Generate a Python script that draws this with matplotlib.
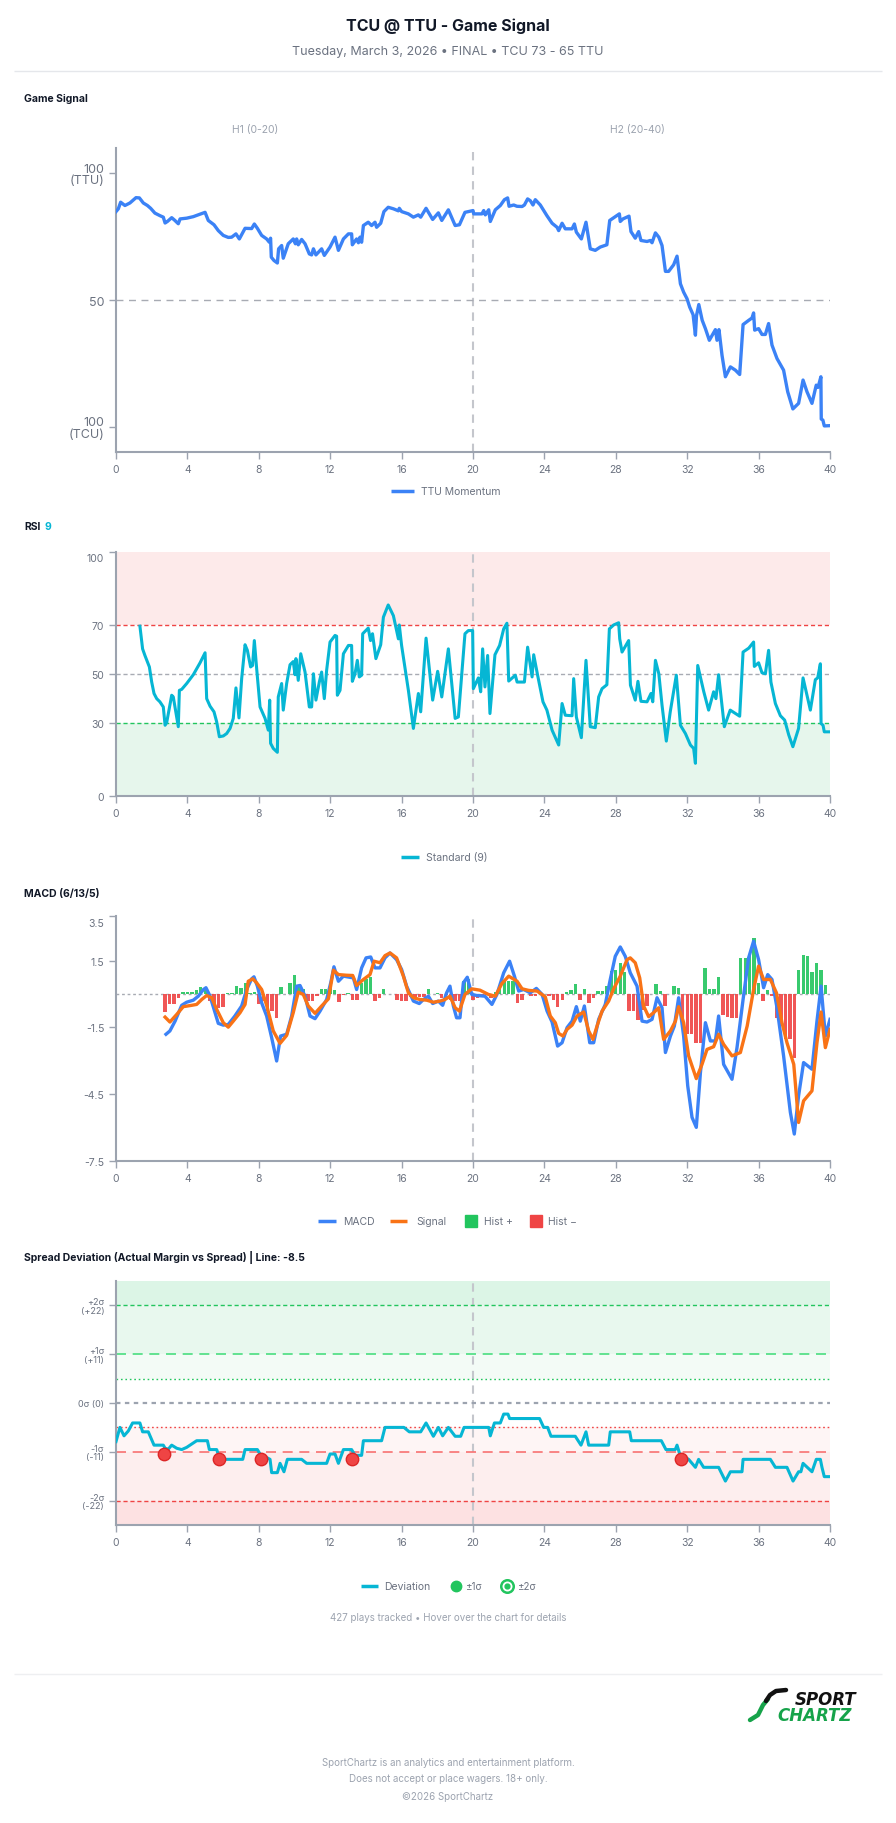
import matplotlib
matplotlib.use("Agg")
import matplotlib.pyplot as plt
from matplotlib.lines import Line2D
from matplotlib.transforms import ScaledTranslation
import numpy as np

plt.rcParams['font.family'] = ['Inter', 'DejaVu Sans']

# ---------------- DATA ----------------
x_ticks = [0, 4, 8, 12, 16, 20, 24, 28, 32, 36, 40]

mom_t = [0, 0.13, 0.26, 0.5, 0.78, 1.12, 1.31, 1.53, 1.76, 1.94,
         2.18, 2.46, 2.65, 2.75, 2.88, 3.12, 3.3, 3.49, 3.59, 3.96,
         4.33, 4.71, 4.99, 5.17, 5.49, 5.73, 6.01, 6.29, 6.48, 6.72,
         6.91, 7.23, 7.6, 7.75, 7.92, 8.16, 8.44, 8.59, 8.66, 8.7,
         8.85, 9.04, 9.11, 9.28, 9.37, 9.65, 9.93, 10.05, 10.12, 10.21,
         10.4, 10.59, 10.83, 10.96, 11.06, 11.2, 11.52, 11.67, 11.99, 12.27,
         12.46, 12.74, 13.02, 13.2, 13.24, 13.48, 13.58, 13.67, 13.76, 13.86,
         14.13, 14.32, 14.51, 14.6, 14.83, 15.01, 15.25, 15.54, 15.82, 15.87,
         16.0, 16.38, 16.66, 16.94, 17.07, 17.37, 17.74, 18.06, 18.25, 18.62,
         19.0, 19.24, 19.55, 20.0, 20.04, 20.5, 20.6, 20.69, 20.88, 20.97,
         21.25, 21.53, 21.76, 21.94, 22.02, 22.28, 22.46, 22.75, 22.88, 23.06,
         23.21, 23.36, 23.49, 23.77, 24.14, 24.43, 24.71, 24.8, 24.99, 25.17,
         25.55, 25.68, 25.79, 26.07, 26.33, 26.57, 26.85, 27.13, 27.5, 27.66,
         27.97, 28.2, 28.25, 28.4, 28.74, 28.85, 29.09, 29.28, 29.41, 29.75,
         29.93, 30.03, 30.22, 30.41, 30.59, 30.78, 30.96, 31.24, 31.43, 31.62,
         31.8, 31.99, 32.14, 32.33, 32.46, 32.52, 32.65, 32.84, 33.02, 33.24,
         33.58, 33.67, 33.78, 33.95, 34.14, 34.42, 34.7, 34.94, 35.13, 35.45,
         35.63, 35.72, 35.78, 36.0, 36.19, 36.38, 36.56, 36.75, 37.03, 37.4,
         37.63, 37.92, 38.24, 38.49, 38.71, 38.99, 39.23, 39.33, 39.49, 39.51,
         39.6, 39.68, 40.0]
mom_v = [84.9, 86, 88.6, 87.3, 88.3, 90.4, 90.3, 88.3, 87.3, 86.2,
         84.3, 83.3, 82.7, 80.4, 81, 82.5, 81.4, 80.1, 82, 82.3,
         82.9, 83.9, 84.6, 81.4, 79.7, 77.4, 75.5, 74.7, 74.8, 76.1,
         74.1, 78.3, 78.2, 80, 78.3, 75.5, 74.1, 72.8, 74.4, 66.9,
         65.6, 64.6, 70.2, 71.5, 66.5, 72.2, 74.1, 72.2, 74.1, 71.8,
         73.9, 72.2, 68.2, 67.8, 70.2, 67.8, 70.2, 67.6, 70.9, 74.8,
         69.6, 74.1, 76.1, 76.1, 71.8, 74.1, 72.6, 74.8, 72.8, 79.4,
         80.7, 79.4, 80.7, 78.7, 80.3, 84.9, 86.6, 86, 85.2, 86.2,
         84.9, 84, 82.7, 83.6, 82.7, 86.2, 81.8, 84.4, 81.4, 85.6,
         79.4, 79.7, 84.6, 85.3, 84, 84, 85.3, 83.6, 85.6, 81,
         85.6, 87.3, 89.6, 90.3, 87, 87.5, 87, 86.9, 87.5, 89.9,
         89.2, 87.5, 89.6, 87.5, 83.3, 80.3, 78.7, 77.4, 80.3, 78.1,
         78.1, 80, 76.8, 74.1, 80.7, 70.2, 69.6, 70.9, 71.8, 81.4,
         82.9, 84, 81, 82, 83.1, 77, 74.4, 77, 73.5, 73.1,
         73.5, 72.6, 76.5, 74.8, 71.5, 61.3, 61.3, 63.9, 67.3, 56.4,
         53.1, 50.5, 47.2, 44.2, 36.1, 43.8, 48.2, 42, 38.7, 34.1,
         38.3, 34.1, 38.3, 28.2, 19.7, 23.6, 22.3, 20.6, 40.3, 42,
         42.9, 44.9, 38.1, 38.7, 36.4, 36.4, 40.7, 32.2, 26.9, 22.3,
         13.8, 7, 9.2, 18.4, 13.8, 9.2, 16.4, 15.5, 19.7, 3,
         2.6, 0.3, 0.4]

rsi_t = [1.34, 1.49, 1.62, 1.87, 2.0, 2.13, 2.28, 2.46, 2.65, 2.75,
         2.84, 3.12, 3.21, 3.49, 3.55, 3.68, 3.96, 4.33, 4.71, 4.99,
         5.08, 5.27, 5.49, 5.64, 5.79, 6.01, 6.2, 6.39, 6.57, 6.72,
         6.89, 7.04, 7.23, 7.36, 7.54, 7.65, 7.75, 7.88, 8.07, 8.35,
         8.53, 8.61, 8.66, 8.81, 9.04, 9.09, 9.28, 9.37, 9.56, 9.75,
         9.93, 10.03, 10.08, 10.21, 10.35, 10.59, 10.83, 10.96, 11.06, 11.2,
         11.39, 11.52, 11.67, 11.8, 11.99, 12.27, 12.36, 12.4, 12.55, 12.74,
         13.02, 13.2, 13.24, 13.39, 13.52, 13.63, 13.76, 13.82, 14.13, 14.26,
         14.37, 14.56, 14.83, 14.98, 15.25, 15.54, 15.82, 15.87, 16.0, 16.38,
         16.66, 16.94, 17.07, 17.37, 17.74, 18.02, 18.25, 18.62, 19.0, 19.18,
         19.55, 19.74, 19.98, 20.02, 20.3, 20.43, 20.54, 20.67, 20.82, 20.95,
         21.23, 21.49, 21.72, 21.9, 22.0, 22.37, 22.47, 22.88, 23.06, 23.31,
         23.4, 23.62, 23.92, 24.14, 24.43, 24.8, 24.99, 25.17, 25.55, 25.64,
         25.79, 26.07, 26.33, 26.57, 26.85, 27.04, 27.23, 27.5, 27.64, 27.88,
         28.16, 28.22, 28.35, 28.72, 28.82, 29.09, 29.24, 29.41, 29.75, 29.97,
         30.07, 30.22, 30.41, 30.59, 30.83, 31.05, 31.39, 31.62, 31.9, 32.18,
         32.36, 32.46, 32.59, 32.93, 33.2, 33.48, 33.61, 33.76, 34.08, 34.41,
         34.94, 35.13, 35.45, 35.72, 35.76, 36.0, 36.19, 36.38, 36.56, 36.69,
         36.94, 37.22, 37.46, 37.69, 37.92, 38.24, 38.49, 38.9, 39.18, 39.31,
         39.46, 39.5, 39.61, 39.68, 40.0]
rsi_v = [69.6, 60.3, 57.6, 52.9, 46.7, 42, 39.9, 38.6, 36.5, 29,
         30.1, 41.3, 40.6, 28.4, 43.3, 43.7, 46.1, 49.7, 54.6, 58.7,
         39.9, 36.8, 34.5, 30.4, 24.3, 24.6, 25.6, 27.7, 31.8, 44.3,
         32, 48.1, 62, 59.7, 52.9, 53.5, 63.7, 52.2, 36.5, 31.8,
         27, 39.3, 21.6, 19.5, 17.9, 40.6, 46.1, 35.2, 46.1, 53.8,
         55.1, 49.7, 56.3, 47.4, 58.3, 50.8, 36.5, 36.5, 50.1, 39.3,
         46.7, 50.8, 39.9, 51.5, 63.1, 65.8, 65.5, 41.3, 43.3, 58.3,
         61.7, 61.7, 47, 50.1, 55.6, 48.8, 49.5, 66.5, 68.8, 63.7,
         66.5, 56.3, 62, 73.3, 78.3, 73.9, 64.4, 70.1, 61.7, 43.3,
         27.7, 42, 34.5, 64.7, 39.3, 51.1, 40.6, 60.3, 31.8, 32.4,
         66.5, 67.8, 67.8, 44, 48.4, 42.7, 60.3, 44.7, 57.6, 33.8,
         57.9, 61.7, 68.5, 70.8, 47.1, 49.5, 46.7, 46.7, 61, 48.8,
         57.9, 49.5, 38.6, 35.2, 27, 20.9, 37.9, 33.1, 32.9, 48.1,
         32.4, 23.9, 55.6, 28.4, 28, 40.6, 44, 45.6, 68.5, 70.1,
         71, 64.4, 59, 63.7, 45.4, 39.3, 47, 38.8, 38.6, 42,
         38.6, 55.6, 50.1, 37.2, 22.5, 34.5, 49.5, 29, 25.6, 20.9,
         19.5, 13.4, 53.5, 42.7, 35.2, 42.7, 39.9, 49.7, 28.4, 35.2,
         32.7, 59, 60.6, 63.1, 53.1, 54.6, 50.5, 50.1, 59.7, 46.7,
         37.9, 32.9, 31.1, 25, 20.2, 27.7, 48.4, 35.2, 47.7, 48.4,
         54.2, 29.7, 29, 26.3, 26.3]

macd_t = [2.8, 3.02, 3.31, 3.68, 3.96, 4.33, 4.61, 4.9, 5.04, 5.27,
          5.55, 5.73, 6.01, 6.29, 6.66, 7.04, 7.32, 7.6, 7.73, 7.92,
          8.16, 8.44, 8.72, 9.0, 9.22, 9.56, 9.84, 10.12, 10.31, 10.59,
          10.87, 11.15, 11.43, 11.8, 12.03, 12.21, 12.46, 12.74, 13.3, 13.48,
          13.76, 14.01, 14.27, 14.51, 14.79, 15.07, 15.35, 15.72, 16.0, 16.28,
          16.66, 16.99, 17.22, 17.5, 17.74, 18.06, 18.3, 18.52, 18.71, 18.9,
          19.08, 19.27, 19.46, 19.68, 19.93, 20.21, 20.67, 21.06, 21.34, 21.72,
          22.05, 22.32, 22.56, 22.84, 23.21, 23.55, 23.87, 24.15, 24.43, 24.74,
          24.99, 25.27, 25.55, 25.79, 26.01, 26.24, 26.54, 26.76, 27.04, 27.41,
          27.69, 27.97, 28.25, 28.53, 28.81, 29.19, 29.47, 29.75, 30.03, 30.31,
          30.59, 30.78, 31.06, 31.28, 31.52, 31.8, 32.03, 32.27, 32.51, 32.74,
          33.02, 33.3, 33.58, 33.76, 34.04, 34.51, 34.79, 35.13, 35.44, 35.72,
          36.0, 36.28, 36.51, 36.75, 37.03, 37.4, 37.78, 38.0, 38.24, 38.52,
          38.99, 39.27, 39.5, 39.74, 40.0]
macd_v = [-1.81, -1.66, -1.22, -0.51, -0.37, -0.28, -0.1, 0.2, 0.28, -0.1,
          -0.84, -1.32, -1.4, -1.37, -0.99, -0.54, 0.2, 0.68, 0.77, 0.35,
          -0.4, -0.99, -1.96, -3.01, -1.89, -1.81, -0.99, 0.35, 0.38, -0.1,
          -0.99, -1.11, -0.77, -0.25, 0.5, 1.22, 0.57, 0.8, 0.72, 0.2,
          1.17, 1.62, 1.66, 1.17, 1.17, 1.62, 1.84, 1.54, 1.1, 0.35,
          -0.32, -0.43, -0.25, -0.1, -0.43, -0.32, -0.51, 0.05, 0.35, -0.54,
          -1.07, -1.07, 0.5, 0.75, -0.02, -0.07, -0.1, -0.47, -0.02, 0.95,
          1.47, 0.8, 0.13, 0.2, 0.05, 0.25, -0.02, -0.77, -1.26, -2.34,
          -2.19, -1.51, -1.22, -0.57, -1.22, -0.54, -2.19, -2.19, -1.14, -0.47,
          0.65, 1.69, 2.11, 1.69, 0.95, 0.35, -1.22, -1.26, -1.14, -0.17,
          -0.62, -2.63, -1.89, -1.44, -0.17, -1.89, -4.13, -5.54, -5.99, -3.54,
          -1.29, -2.11, -2.11, -0.99, -3.16, -3.83, -2.41, -0.25, 1.62, 2.37,
          1.54, 0.28, 0.87, 0.65, -0.62, -2.78, -5.32, -6.29, -4.57, -3.08,
          -3.38, -1.22, 0.35, -1.89, -1.14]

sig_t = [2.75, 3.02, 3.4, 3.77, 4.24, 4.52, 4.8, 5.08, 5.36, 5.64,
         6.01, 6.29, 6.57, 6.95, 7.23, 7.41, 7.66, 7.88, 8.16, 8.44,
         8.81, 9.19, 9.56, 9.93, 10.21, 10.49, 10.77, 11.15, 11.52, 11.9,
         12.18, 12.46, 12.92, 13.26, 13.48, 13.86, 14.23, 14.46, 14.79, 15.07,
         15.35, 15.72, 16.1, 16.38, 16.66, 17.03, 17.41, 17.78, 18.15, 18.43,
         18.71, 19.0, 19.24, 19.55, 19.93, 20.39, 20.86, 21.25, 21.62, 22.0,
         22.47, 22.75, 23.12, 23.59, 24.05, 24.33, 24.61, 24.8, 25.04, 25.27,
         25.55, 25.83, 26.2, 26.48, 26.72, 26.95, 27.23, 27.6, 27.88, 28.25,
         28.63, 28.81, 29.09, 29.34, 29.56, 29.84, 30.12, 30.4, 30.68, 31.06,
         31.34, 31.52, 31.8, 32.08, 32.51, 32.83, 33.11, 33.48, 33.76, 34.04,
         34.51, 34.98, 35.36, 35.72, 36.0, 36.28, 36.66, 37.0, 37.31, 37.59,
         37.97, 38.24, 38.52, 38.99, 39.27, 39.5, 39.74, 40.0]
sig_v = [-1.04, -1.26, -0.92, -0.57, -0.51, -0.47, -0.25, -0.07, -0.17, -0.69,
         -1.29, -1.49, -1.22, -0.84, -0.47, 0.57, 0.68, 0.5, 0.2, -0.51,
         -1.66, -2.22, -1.86, -0.84, 0.08, -0.02, -0.54, -0.87, -0.54, -0.22,
         1.07, 0.87, 0.84, 0.83, 0.38, 0.65, 0.87, 1.47, 1.4, 1.72,
         1.84, 1.62, 0.8, 0.05, -0.17, -0.25, -0.28, -0.37, -0.32, -0.25,
         -0.1, -0.62, -0.77, -0.02, 0.23, 0.17, -0.02, -0.1, 0.47, 0.8,
         0.57, 0.23, 0.16, 0.13, -0.13, -0.99, -1.29, -1.77, -1.89, -1.59,
         -1.4, -0.99, -0.81, -1.66, -2.04, -1.44, -0.77, -0.32, 0.23, 0.8,
         1.54, 1.62, 1.4, 0.72, -0.54, -1.02, -0.84, -0.62, -2.04, -1.66,
         -1.22, -0.57, -1.29, -2.78, -3.8, -3.16, -2.49, -2.37, -1.81, -2.26,
         -2.78, -2.63, -1.44, 0.2, 1.25, 0.65, 0.65, 0.05, -1.29, -2.19,
         -3.16, -5.77, -4.8, -4.35, -2.19, -0.81, -2.41, -1.59]

hist_start = 2.75
hist_step = 0.25
hist_v = [-0.8, -0.43, -0.43, -0.17, 0.08, 0.08, 0.1, 0.2, 0.3, 0.32,
          -0.3, -0.6, -0.62, -0.6, 0.03, 0.05, 0.35, 0.28, 0.5, 0.05,
          0.08, -0.43, -0.3, -0.77, -0.77, -1.07, 0.3, 0.02, 0.5, 0.84,
          0.4, 0.23, -0.32, -0.32, -0.1, 0.23, 0.23, 0.5, 0.2, -0.35,
          -0.05, 0.03, -0.28, -0.28, 0.5, 0.65, 0.75, -0.32, -0.2, 0.23,
          0.02, 0.01, -0.27, -0.32, -0.32, -0.12, -0.17, -0.12, -0.15, 0.23,
          0.02, 0.05, -0.17, -0.05, -0.25, -0.32, -0.32, 0.57, 0.65, -0.25,
          -0.17, -0.12, -0.05, -0.17, 0.1, 0.34, 0.57, 0.57, 0.57, -0.4,
          -0.25, 0.02, -0.08, -0.08, 0.02, 0.01, -0.1, -0.25, -0.6, -0.25,
          0.07, 0.19, 0.45, -0.28, 0.22, -0.4, -0.18, 0.12, 0.12, 0.34,
          1.01, 1.09, 1.39, 1.0, -0.75, -0.75, -1.15, -0.7, -0.55, 0.02,
          0.45, 0.15, -0.52, 0.02, 0.34, 0.27, -1.52, -1.78, -1.78, -2.19,
          -2.19, 1.16, 0.22, 0.22, 0.75, -0.93, -1.03, -1.07, -1.07, 1.61,
          1.61, 1.76, 2.51, 0.49, -0.33, 0.2, -0.1, -1.07, -1.45, -2.04,
          -2.04, -2.87, 1.09, 1.76, 1.72, 0.97, 1.39, 1.09, 0.42]

dev_t = [0, 0.22, 0.45, 0.69, 0.93, 1.34, 1.49, 1.81, 2.13, 2.65,
         2.75, 2.93, 3.12, 3.4, 3.68, 3.96, 4.52, 5.12, 5.23, 5.64,
         5.83, 7.1, 7.23, 7.92, 8.07, 8.63, 8.72, 9.04, 9.19, 9.41,
         9.6, 10.4, 10.68, 11.8, 11.99, 12.27, 12.46, 12.74, 13.2, 13.39,
         13.76, 13.86, 14.88, 15.07, 16.13, 16.43, 17.07, 17.37, 17.78, 18.06,
         18.3, 18.62, 19.0, 19.31, 19.5, 20.88, 20.97, 21.2, 21.53, 21.72,
         21.96, 22.05, 23.73, 23.96, 24.18, 24.37, 25.73, 26.05, 26.33, 26.48,
         27.6, 27.69, 28.78, 28.87, 30.55, 30.81, 31.33, 31.43, 31.58, 32.08,
         32.46, 32.64, 32.92, 33.76, 34.14, 34.42, 35.07, 35.13, 36.66, 36.94,
         37.59, 37.93, 38.24, 38.37, 38.49, 38.99, 39.23, 39.46, 39.55, 39.68,
         40.0]
dev_v = [-8.7, -5.5, -7.4, -6.3, -4.5, -4.5, -6.5, -6.5, -9.5, -9.5,
         -10.2, -10.4, -9.5, -10.2, -10.5, -10.0, -8.5, -8.5, -10.5, -10.5,
         -12.7, -12.7, -10.5, -10.5, -11.5, -12.7, -15.7, -15.7, -13.6, -15.5,
         -12.7, -12.7, -13.6, -13.6, -11.5, -11.5, -13.6, -10.5, -10.5, -11.8,
         -11.8, -8.5, -8.5, -5.5, -5.5, -6.5, -6.5, -4.5, -7.5, -5.5,
         -7.4, -5.5, -7.5, -7.5, -5.5, -5.5, -7.4, -4.5, -4.5, -2.5,
         -2.5, -3.5, -3.5, -5.5, -5.5, -7.5, -7.5, -9.5, -6.5, -9.5,
         -9.5, -6.5, -6.5, -8.5, -8.5, -10.5, -10.5, -9.5, -11.5, -12.7,
         -14.5, -12.7, -14.5, -14.5, -17.6, -15.5, -15.5, -12.7, -12.7, -14.5,
         -14.5, -17.6, -15.5, -15.5, -13.6, -15.5, -12.7, -12.7, -14.5, -16.6,
         -16.6]

alert_t = [2.71, 5.79, 8.1, 13.24, 31.65]
alert_v = [-11.5, -12.7, -12.7, -12.7, -12.7]

sigma = 11
dev_ticks = [22, 11, 0, -11, -22]
dev_labels = ['+2σ\n(+22)', '+1σ\n(+11)', '0σ (0)', '-1σ\n(-11)', '-2σ\n(-22)']

# ---------------- STYLE ----------------
W, H = 896, 1824
BLUE = '#3b82f6'
ORANGE = '#f97316'
GREEN = '#22c55e'
RED = '#ef4444'
CYAN = '#06b6d4'
AXC = '#9ca3af'
TXT = '#6b7280'
DARK = '#111827'

fig = plt.figure(figsize=(W / 100, H / 100), dpi=100)
fig.patch.set_facecolor('white')


def fy(y):
    return 1 - y / H


def fxp(x):
    return x / W


def add_ax(top, bottom):
    return fig.add_axes([116 / W, 1 - bottom / H, 714 / W, (bottom - top) / H])


def style(ax, ylabsize=7.5):
    ax.set_xlim(0, 40)
    ax.set_xticks(x_ticks)
    for s in ['top', 'right']:
        ax.spines[s].set_visible(False)
    for s in ['left', 'bottom']:
        ax.spines[s].set_color(AXC)
        ax.spines[s].set_linewidth(1.5)
    ax.tick_params(axis='both', colors=AXC, length=5, width=1, labelcolor=TXT, labelsize=7.5)
    ax.tick_params(axis='y', labelsize=ylabsize)
    ax.set_facecolor('none')
    ax.axvline(20, color='#c4c6cc', ls=(0, (4, 3)), lw=1.5, zorder=1)


def shift_top_label(ax, px):
    lab = ax.get_yticklabels()[-1]
    lab.set_transform(lab.get_transform() + ScaledTranslation(0, -px / 100, fig.dpi_scale_trans))


def hline(x0, x1, y, color, lw=1.0, ls='-'):
    fig.add_artist(Line2D([fxp(x0), fxp(x1)], [fy(y), fy(y)], color=color, lw=lw, ls=ls,
                          transform=fig.transFigure, solid_capstyle='butt'))


def dot(x, y, size, face, edge, ew=1.0):
    fig.add_artist(Line2D([fxp(x)], [fy(y)], marker='o', markersize=size, markerfacecolor=face,
                          markeredgecolor=edge, markeredgewidth=ew, ls='none',
                          transform=fig.transFigure))


def ftext(x, y, s, **kw):
    fig.text(fxp(x), fy(y), s, **kw)


# ---------------- HEADER ----------------
ftext(448, 26, 'TCU @ TTU - Game Signal', ha='center', va='center', fontsize=11.5,
      fontweight='bold', color=DARK)
ftext(448, 52, 'Tuesday, March 3, 2026 • FINAL • TCU 73 - 65 TTU', ha='center', va='center',
      fontsize=9, color=TXT)
hline(14, 882, 72, '#e5e7eb', lw=1)

# ---------------- GAME SIGNAL ----------------
ftext(24, 99, 'Game Signal', ha='left', va='center', fontsize=7.5, fontweight='bold', color=DARK)
ftext(255, 130, 'H1 (0-20)', ha='center', va='center', fontsize=7.5, color=AXC)
ftext(637, 130, 'H2 (20-40)', ha='center', va='center', fontsize=7.5, color=AXC)

ax1 = add_ax(149, 453)
style(ax1, ylabsize=9)
ax1.set_ylim(-10, 110)
ax1.set_yticks([0, 50, 100])
ax1.set_yticklabels(['100\n(TCU)', '50', '100\n(TTU)'], linespacing=0.95)
ax1.axhline(50, color='#a8abb3', ls=(0, (5, 4)), lw=1, zorder=1)
ax1.plot(mom_t, mom_v, color=BLUE, lw=2.4, solid_joinstyle='round', zorder=3)

hline(391, 414, 492, BLUE, lw=2.5)
ftext(421, 492, 'TTU Momentum', ha='left', va='center', fontsize=7.5, color=TXT)

# ---------------- RSI ----------------
ftext(24, 527, 'RSI', ha='left', va='center', fontsize=7.5, fontweight='bold', color=DARK)
ftext(44, 527, '9', ha='left', va='center', fontsize=7.5, fontweight='bold', color=CYAN)

ax2 = add_ax(553, 797)
style(ax2)
ax2.set_ylim(0, 100)
ax2.set_yticks([0, 30, 50, 70, 100])
shift_top_label(ax2, 5)
ax2.axhspan(70, 100, color='#fdeaea', lw=0, zorder=0)
ax2.axhspan(0, 30, color='#e6f6ec', lw=0, zorder=0)
ax2.axhline(70, color=RED, ls=(0, (3, 2)), lw=1, zorder=1)
ax2.axhline(30, color=GREEN, ls=(0, (3, 2)), lw=1, zorder=1)
ax2.axhline(50, color='#a8abb3', ls=(0, (3, 2)), lw=1, zorder=1)
ax2.plot(rsi_t, rsi_v, color=CYAN, lw=2.2, solid_joinstyle='round', zorder=3)

hline(401, 419, 858, CYAN, lw=2.5)
ftext(426, 858, 'Standard (9)', ha='left', va='center', fontsize=7.5, color=TXT)

# ---------------- MACD ----------------
ftext(24, 894, 'MACD (6/13/5)', ha='left', va='center', fontsize=7.5, fontweight='bold', color=DARK)

ax3 = add_ax(917, 1162)
style(ax3)
ax3.set_ylim(-7.5, 3.5)
ax3.set_yticks([-7.5, -4.5, -1.5, 1.5, 3.5])
ax3.set_yticklabels(['-7.5', '-4.5', '-1.5', '1.5', '3.5'])
shift_top_label(ax3, 6)
ax3.axhline(0, color='#a8abb3', ls=(0, (2, 2)), lw=1, zorder=1)
hist_t = hist_start + hist_step * np.arange(len(hist_v))
hist_arr = np.array(hist_v)
ax3.bar(hist_t, hist_arr, width=0.19, color=np.where(hist_arr >= 0, GREEN, RED),
        alpha=0.9, lw=0, zorder=2)
ax3.plot(macd_t, macd_v, color=BLUE, lw=2.4, solid_joinstyle='round', zorder=3)
ax3.plot(sig_t, sig_v, color=ORANGE, lw=2.4, solid_joinstyle='round', zorder=4)

hline(318, 336, 1222, BLUE, lw=2.5)
ftext(343, 1222, 'MACD', ha='left', va='center', fontsize=7.5, color=TXT)
hline(390, 407, 1222, ORANGE, lw=2.5)
ftext(416, 1222, 'Signal', ha='left', va='center', fontsize=7.5, color=TXT)
fig.add_artist(plt.Rectangle((fxp(465), fy(1228)), 12 / W, 12 / H, color=GREEN,
                             transform=fig.transFigure))
ftext(484, 1222, 'Hist +', ha='left', va='center', fontsize=7.5, color=TXT)
fig.add_artist(plt.Rectangle((fxp(530), fy(1228)), 12 / W, 12 / H, color=RED,
                             transform=fig.transFigure))
ftext(548, 1222, 'Hist −', ha='left', va='center', fontsize=7.5, color=TXT)

# ---------------- SPREAD DEVIATION ----------------
ftext(24, 1257, 'Spread Deviation (Actual Margin vs Spread) | Line: -8.5', ha='left',
      va='center', fontsize=7.5, fontweight='bold', color=DARK)

ax4 = add_ax(1282, 1526)
style(ax4, ylabsize=6.5)
ax4.set_ylim(-2.5 * sigma, 2.5 * sigma)
ax4.set_yticks(dev_ticks)
ax4.set_yticklabels(dev_labels, linespacing=0.95)
ax4.axhspan(2 * sigma, 2.5 * sigma, color='#dcf5e6', lw=0, zorder=0)
ax4.axhspan(sigma, 2 * sigma, color='#e8f8ee', lw=0, zorder=0)
ax4.axhspan(0.5 * sigma, sigma, color='#f3fbf6', lw=0, zorder=0)
ax4.axhspan(-sigma, -0.5 * sigma, color='#fef5f5', lw=0, zorder=0)
ax4.axhspan(-2 * sigma, -sigma, color='#fdeeee', lw=0, zorder=0)
ax4.axhspan(-2.5 * sigma, -2 * sigma, color='#fde1e2', lw=0, zorder=0)
ax4.axhline(2 * sigma, color=GREEN, ls=(0, (3, 2)), lw=1, zorder=1)
ax4.axhline(sigma, color='#4ade80', ls=(0, (6, 4)), lw=1.2, zorder=1)
ax4.axhline(0.5 * sigma, color=GREEN, ls=(0, (1.2, 2)), lw=1, zorder=1)
ax4.axhline(0, color='#9ca3af', ls=(0, (2, 2)), lw=1.6, zorder=1)
ax4.axhline(-0.5 * sigma, color=RED, ls=(0, (1.2, 2)), lw=1, zorder=1)
ax4.axhline(-sigma, color='#f87171', ls=(0, (6, 4)), lw=1.2, zorder=1)
ax4.axhline(-2 * sigma, color=RED, ls=(0, (3, 2)), lw=1, zorder=1)
ax4.plot(dev_t, dev_v, color=CYAN, lw=2.2, solid_joinstyle='round', zorder=3)
ax4.scatter(alert_t, alert_v, s=80, color=RED, edgecolor='#dc2626', lw=1, zorder=5)

hline(361, 378, 1587, CYAN, lw=2.5)
ftext(384, 1587, 'Deviation', ha='left', va='center', fontsize=7.5, color=TXT)
dot(456, 1587, 7.5, GREEN, GREEN)
ftext(466, 1587, '±1σ', ha='left', va='center', fontsize=7, color=TXT)
dot(507, 1587, 9, 'white', GREEN, ew=1.8)
dot(507, 1587, 3.5, GREEN, GREEN)
ftext(518, 1587, '±2σ', ha='left', va='center', fontsize=7, color=TXT)

ftext(448, 1618, '427 plays tracked • Hover over the chart for details', ha='center',
      va='center', fontsize=7, color=AXC)

# ---------------- FOOTER ----------------
hline(14, 882, 1675, '#eeeff1', lw=1)
fig.add_artist(Line2D([fxp(750), fxp(758), fxp(763), fxp(768)],
                      [fy(1721), fy(1716), fy(1706), fy(1700)], color='#16a34a', lw=3.2,
                      solid_capstyle='round', transform=fig.transFigure))
fig.add_artist(Line2D([fxp(766), fxp(770), fxp(776), fxp(786)],
                      [fy(1702), fy(1696), fy(1692), fy(1691)], color='#111111', lw=3.2,
                      solid_capstyle='round', transform=fig.transFigure))
ftext(856, 1700, 'SPORT', ha='right', va='center', fontsize=12, fontweight='bold',
      style='italic', color='#111111', family='DejaVu Sans')
ftext(852, 1716, 'CHARTZ', ha='right', va='center', fontsize=12, fontweight='bold',
      style='italic', color='#16a34a', family='DejaVu Sans')

ftext(448, 1763, 'SportChartz is an analytics and entertainment platform.', ha='center',
      va='center', fontsize=7, color=AXC)
ftext(448, 1779, 'Does not accept or place wagers. 18+ only.', ha='center', va='center',
      fontsize=7, color=AXC)
ftext(448, 1797, '©2026 SportChartz', ha='center', va='center', fontsize=7, color=AXC)

fig.savefig('out.png', dpi=100, facecolor='white')
